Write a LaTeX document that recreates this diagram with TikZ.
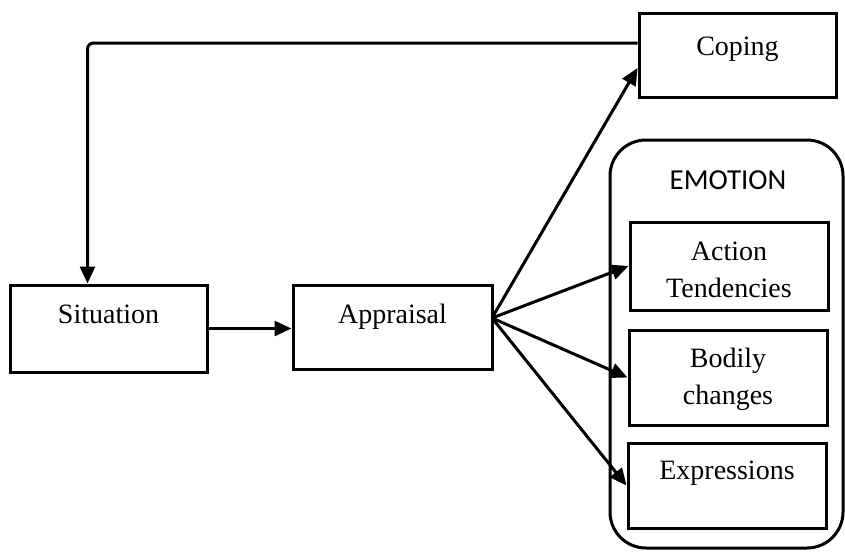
\documentclass[tikz,border=0pt]{standalone}
\usepackage{fontspec}
\setmainfont{Liberation Serif}
\newfontfamily\headfont{Carlito}
\usetikzlibrary{arrows.meta}
\begin{document}
\begin{tikzpicture}[x=1pt,y=-1pt,
  box/.style={draw, line width=3pt, rectangle, inner sep=0pt},
  label/.style={anchor=base, inner sep=0pt, font=\fontsize{28}{37}\selectfont},
  arr/.style={line width=3pt, -{Triangle[length=17pt,width=15pt]}}]
  \useasboundingbox (0,0) rectangle (845,552);

  % boxes
  \node[box, minimum width=197pt, minimum height=84pt] (coping) at (737.5,55) {};
  \node[box, minimum width=197pt, minimum height=87pt] (sit) at (108.5,328.5) {};
  \node[box, minimum width=199pt, minimum height=84pt] (appr) at (392.5,327) {};
  \node[box, rounded corners=36pt, minimum width=233pt, minimum height=408pt] (emo) at (726.5,344) {};
  \node[box, minimum width=198pt, minimum height=88pt] (action) at (729,266) {};
  \node[box, minimum width=198pt, minimum height=95pt] (bodily) at (728,377.5) {};
  \node[box, minimum width=198pt, minimum height=85pt] (expr) at (727,485.5) {};

  % texts
  \node[label] (copingtxt) at (737.5,55) {Coping};
  \node[label] (sittxt) at (108.5,323) {Situation};
  \node[label] (apprtxt) at (392.5,323) {Appraisal};
  \node[anchor=base, inner sep=0pt, font=\headfont\fontsize{29}{34}\selectfont] (emotxt) at (728,189) {EMOTION};
  \node[label] (actiontxt1) at (729,260) {Action};
  \node[label] (actiontxt2) at (729,297) {Tendencies};
  \node[label] (bodilytxt1) at (728,367) {Bodily};
  \node[label] (bodilytxt2) at (728,404) {changes};
  \node[label] (exprtxt) at (727,479) {Expressions};

  % connectors
  \coordinate (fan) at (492,318);
  \draw[arr] (sit.east) -- (sit.east -| appr.west);
  \draw[arr] (fan) -- ([yshift=-13pt]coping.west);
  \draw[arr] (fan) -- (action.west);
  \draw[arr] (fan) -- (bodily.west);
  \draw[arr] (fan) -- (expr.west);
  \draw[arr, rounded corners=6pt] ([yshift=12pt]coping.west) -| ([xshift=-21pt]sit.north);
\end{tikzpicture}
\end{document}
